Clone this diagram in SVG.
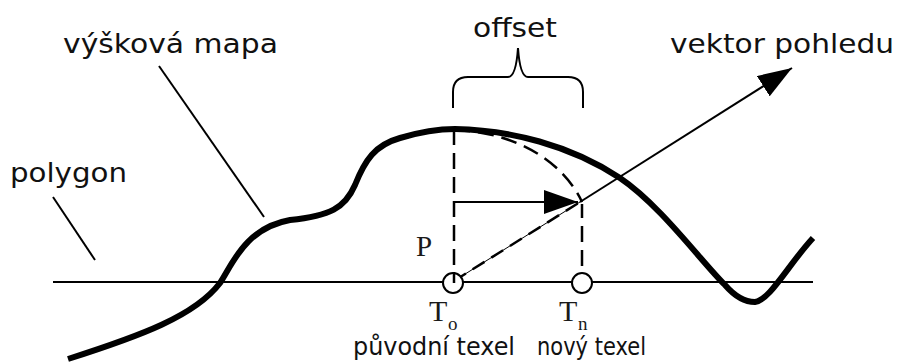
<svg xmlns="http://www.w3.org/2000/svg" width="898" height="362" viewBox="0 0 898 362">
  <style>
    .lbl { font-family: "DejaVu Sans", Verdana, sans-serif; font-size: 27px; fill: #111; }
    .sub { font-family: "DejaVu Sans", Verdana, sans-serif; font-size: 25px; fill: #111; }
    .serif { font-family: "Liberation Serif", "Times New Roman", serif; fill: #1a1a1a; }
    .thin { fill: none; stroke: #000; stroke-width: 2; }
    .dash { fill: none; stroke: #000; stroke-width: 2.5; stroke-dasharray: 16 8; }
    .map { fill: none; stroke: #000; stroke-width: 6; stroke-linecap: butt; stroke-linejoin: round; }
    .texel { fill: #fff; stroke: #000; stroke-width: 2; }
  </style>
  <defs>
    <marker id="head" viewBox="0 0 34 24" refX="34" refY="12" markerWidth="34" markerHeight="24" markerUnits="userSpaceOnUse" orient="auto">
      <path d="M0,0 L34,12 L0,24 Z" fill="#000"/>
    </marker>
  </defs>
  <rect width="898" height="362" fill="#fff"/>

  <!-- polygon surface -->
  <g id="polygon">
    <line class="thin" x1="53" y1="282" x2="813" y2="282"/>
  </g>

  <!-- height map profile -->
  <g id="heightmap">
    <path class="map" d="M68,359 C140,336 195,316 220,283 C232,265 245,228 290,220 C330,216 345,208 355,185 C365,160 375,145 400,138 C420,132 435,129 455,129 C510,130 570,145 620,178 C660,205 700,260 725,285 C738,300 748,302 755,302 C770,300 788,265 813,238"/>
  </g>

  <g id="connectors">
    <!-- label leaders -->
    <line class="thin" x1="53" y1="197" x2="95" y2="260"/>
    <line class="thin" x1="159" y1="66" x2="264" y2="217"/>
    <!-- projections of the texels -->
    <line class="dash" x1="454" y1="129" x2="454" y2="276"/>
    <line class="dash" x1="582" y1="204" x2="582" y2="272" stroke-dashoffset="2"/>
    <!-- swing of the height onto the view ray -->
    <path class="dash" d="M454,130 C520,132 565,165 582,202" stroke-dasharray="14 9"/>
    <!-- offset arrow -->
    <line x1="454" y1="202" x2="578" y2="202" stroke="#000" stroke-width="2" marker-end="url(#head)"/>
    <!-- view vector -->
    <line x1="454" y1="281" x2="580" y2="202" stroke="#000" stroke-width="1"/>
    <line x1="454" y1="281" x2="580" y2="202" stroke="#000" stroke-width="2.5" stroke-dasharray="14 8"/>
    <line x1="580" y1="202" x2="792" y2="68" stroke="#000" stroke-width="2" marker-end="url(#head)"/>
    <!-- offset brace -->
    <path class="thin" stroke-width="2.5" d="M453,108 L453,92 Q453,77 468,77 L508,77 Q516,77 518,48 Q520,77 528,77 L568,77 Q583,77 583,92 L583,108"/>
  </g>

  <g id="texel-orig">
    <circle class="texel" cx="453" cy="283" r="10"/>
    <line x1="454" y1="272" x2="454" y2="283" stroke="#000" stroke-width="2.5"/>
    <text class="serif" x="429" y="321" font-size="30">T</text>
    <text class="serif" x="448" y="330" font-size="19">o</text>
    <text class="sub" x="353" y="355" textLength="162" lengthAdjust="spacingAndGlyphs">původní texel</text>
  </g>

  <g id="texel-new">
    <circle class="texel" cx="582" cy="283" r="10"/>
    <text class="serif" x="559" y="321" font-size="30">T</text>
    <text class="serif" x="578" y="330" font-size="19">n</text>
    <text class="sub" x="537" y="355" textLength="109" lengthAdjust="spacingAndGlyphs">nový texel</text>
  </g>

  <g id="point-p">
    <text class="serif" x="416" y="256" font-size="29">P</text>
  </g>

  <g id="labels">
    <text class="lbl" x="63" y="53" textLength="215" lengthAdjust="spacingAndGlyphs">výšková mapa</text>
    <text class="lbl" x="10" y="182" textLength="117" lengthAdjust="spacingAndGlyphs">polygon</text>
    <text class="lbl" x="473" y="37" textLength="84" lengthAdjust="spacingAndGlyphs">offset</text>
    <text class="lbl" x="670" y="53" textLength="224" lengthAdjust="spacingAndGlyphs">vektor pohledu</text>
  </g>
</svg>
